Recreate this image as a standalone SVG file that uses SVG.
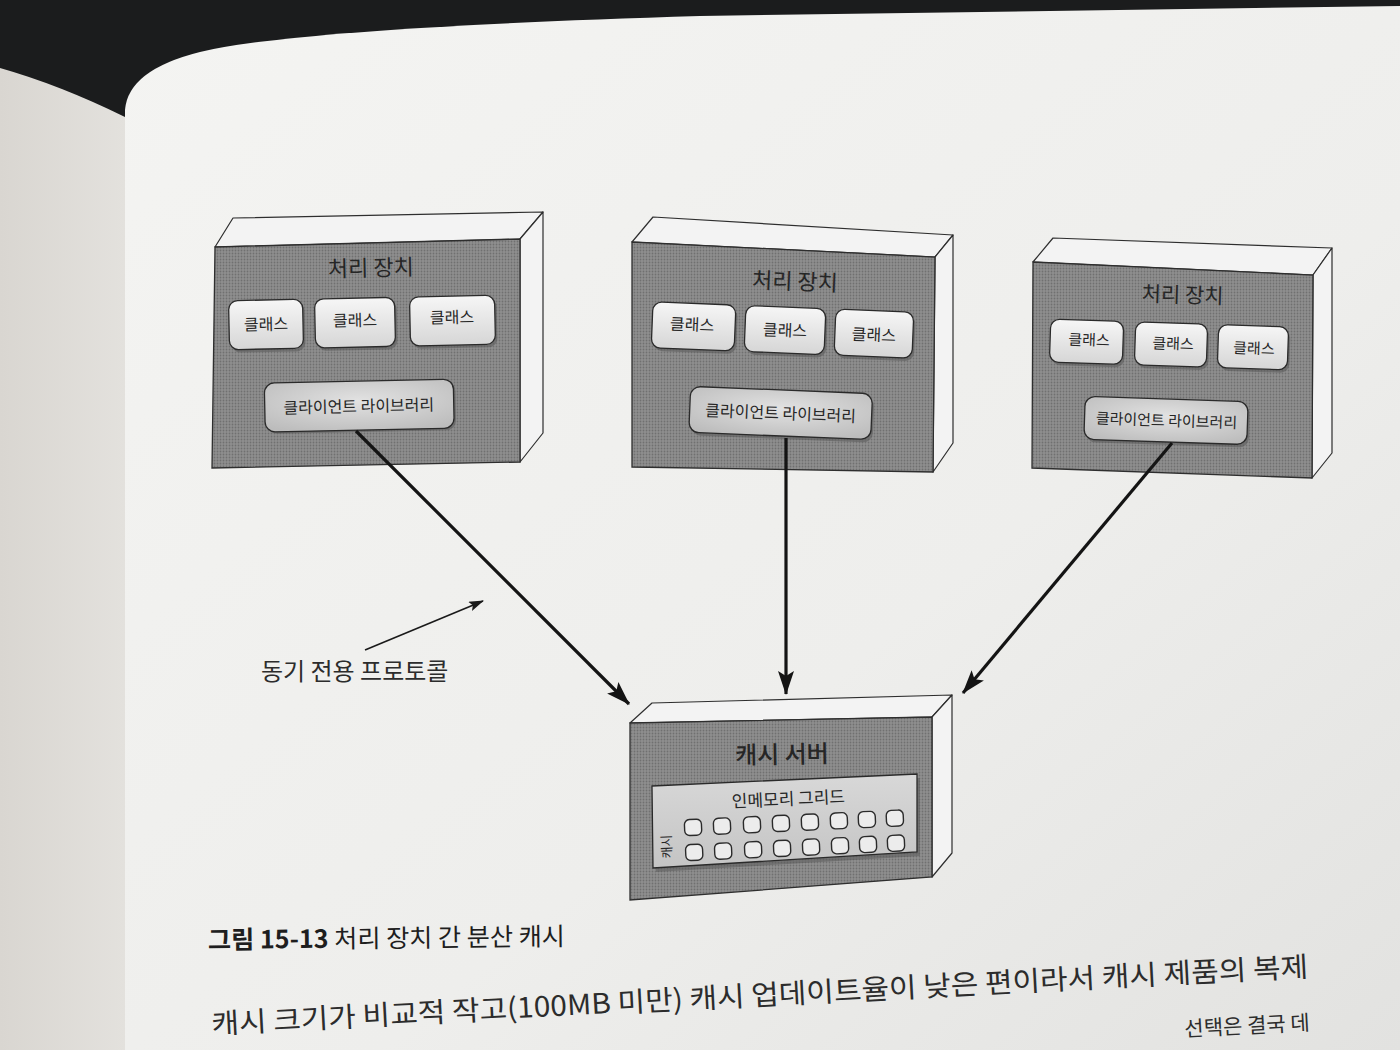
<svg xmlns="http://www.w3.org/2000/svg" width="1400" height="1050" viewBox="0 0 1400 1050">
<defs>
  <linearGradient id="pageGrad" x1="0" y1="0" x2="1" y2="1">
    <stop offset="0" stop-color="#f4f4f2"/>
    <stop offset="0.6" stop-color="#eeeeec"/>
    <stop offset="1" stop-color="#e2e2e0"/>
  </linearGradient>
  <linearGradient id="leftPage" x1="0" y1="0" x2="1" y2="0">
    <stop offset="0" stop-color="#d9d6d1"/>
    <stop offset="1" stop-color="#e3e1dd"/>
  </linearGradient>
  <pattern id="halftone" width="3" height="3" patternUnits="userSpaceOnUse">
    <rect width="3" height="3" fill="#8f8f8f"/>
    <circle cx="1.5" cy="1.5" r="0.9" fill="#707070"/>
  </pattern>
  <linearGradient id="classGrad" x1="0" y1="0" x2="0" y2="1">
    <stop offset="0" stop-color="#f6f6f6"/>
    <stop offset="1" stop-color="#d6d6d6"/>
  </linearGradient>
  <radialGradient id="libGrad" cx="0.5" cy="0.4" r="0.7">
    <stop offset="0" stop-color="#e2e2e2"/>
    <stop offset="1" stop-color="#bcbcbc"/>
  </radialGradient>
  <linearGradient id="gridGrad" x1="0" y1="0" x2="0" y2="1">
    <stop offset="0" stop-color="#d8d8d8"/>
    <stop offset="1" stop-color="#c4c4c4"/>
  </linearGradient>
  <marker id="head" viewBox="0 0 24 16" refX="23" refY="8" markerWidth="24" markerHeight="16" markerUnits="userSpaceOnUse" orient="auto">
    <path d="M0,0 L24,8 L0,16 L5,8 Z" fill="#141414"/>
  </marker>
  <marker id="headSmall" viewBox="0 0 15 10" refX="14" refY="5" markerWidth="15" markerHeight="10" markerUnits="userSpaceOnUse" orient="auto">
    <path d="M0,0 L15,5 L0,10 L3,5 Z" fill="#1a1a1a"/>
  </marker>
</defs>
<style>
  .face { fill: url(#halftone); stroke: #2e2e2e; stroke-width: 1.3; }
  .side { fill: #f3f3f3; stroke: #2e2e2e; stroke-width: 1.2; stroke-linejoin: round; }
  .cls { fill: url(#classGrad); stroke: #2a2a2a; stroke-width: 1.3; }
  .shadow { fill: #5a5a5a; opacity: 0.55; }
  .lib { fill: url(#libGrad); stroke: #2a2a2a; stroke-width: 1.3; }
  .t { font-family: "Noto Sans CJK KR", "Noto Sans", sans-serif; fill: #262626; text-anchor: middle; }
  .title { font-size: 22px; }
  .ct { font-size: 16px; }
  .lt { font-size: 16px; }
  .conn { stroke: #141414; stroke-width: 3.2; fill: none; }
  .cell { fill: #ececec; stroke: #2a2a2a; stroke-width: 1.4; }
  .body { font-family: "Noto Sans CJK KR", "Noto Sans", sans-serif; fill: #2c2c2c; }
</style>

<!-- background / page -->
<rect x="0" y="0" width="1400" height="1050" fill="#1b1c1d"/>
<path d="M0,68 Q60,85 125,117 L125,1050 L0,1050 Z" fill="url(#leftPage)"/>
<path d="M125,1050 L125,110 Q128,70 200,52 Q300,28 700,16 L1400,6 L1400,1050 Z" fill="url(#pageGrad)"/>

<!-- processing unit 1 -->
<g id="unit1">
  <polygon class="side" points="215,247 233,218 543,212 520,239"/>
  <polygon class="side" points="520,239 543,212 543,433 520,462"/>
  <polygon class="face" points="215,247 520,239 520,462 212,468"/>
  <g transform="rotate(-1.2 362 322)">
    <text class="t title" x="372" y="276">처리 장치</text>
    <rect class="shadow" x="231" y="301" width="74" height="49" rx="9"/>
    <rect class="cls" x="229" y="298" width="74" height="49" rx="9"/>
    <text class="t ct" x="266" y="328">클래스</text>
    <rect class="shadow" x="317" y="301" width="80" height="49" rx="9"/>
    <rect class="cls" x="315" y="298" width="80" height="49" rx="9"/>
    <text class="t ct" x="355" y="326">클래스</text>
    <rect class="shadow" x="412" y="301" width="85" height="49" rx="9"/>
    <rect class="cls" x="410" y="298" width="85" height="49" rx="9"/>
    <text class="t ct" x="452" y="325">클래스</text>
    <rect class="shadow" x="265" y="383" width="189" height="49" rx="10"/>
    <rect class="lib" x="263" y="381" width="189" height="49" rx="10"/>
    <text class="t lt" x="357" y="412">클라이언트 라이브러리</text>
  </g>
</g>

<!-- processing unit 2 -->
<g id="unit2">
  <polygon class="side" points="632,242 653,217 953,235 935,257"/>
  <polygon class="side" points="935,257 953,235 953,443 933,472"/>
  <polygon class="face" points="632,242 935,257 933,472 632,467"/>
  <g transform="rotate(2.3 783 330)">
    <text class="t title" x="793" y="289">처리 장치</text>
    <rect class="shadow" x="654" y="310" width="83" height="46" rx="9"/>
    <rect class="cls" x="652" y="307" width="83" height="46" rx="9"/>
    <text class="t ct" x="692" y="334">클래스</text>
    <rect class="shadow" x="747" y="310" width="80" height="46" rx="9"/>
    <rect class="cls" x="745" y="307" width="80" height="46" rx="9"/>
    <text class="t ct" x="785" y="336">클래스</text>
    <rect class="shadow" x="837" y="310" width="78" height="46" rx="9"/>
    <rect class="cls" x="835" y="307" width="78" height="46" rx="9"/>
    <text class="t ct" x="874" y="337">클래스</text>
    <rect class="shadow" x="695" y="393" width="182" height="46" rx="10"/>
    <rect class="lib" x="693" y="390" width="182" height="46" rx="10"/>
    <text class="t lt" x="784" y="419">클라이언트 라이브러리</text>
  </g>
</g>

<!-- processing unit 3 -->
<g id="unit3">
  <polygon class="side" points="1033,262 1053,238 1332,248 1313,275"/>
  <polygon class="side" points="1313,275 1332,248 1332,453 1312,478"/>
  <polygon class="face" points="1033,262 1313,275 1312,478 1032,468"/>
  <g transform="rotate(1.9 1170 345)">
    <text class="t" style="font-size:21px" x="1181" y="302">처리 장치</text>
    <rect class="shadow" x="1052" y="326" width="73" height="43" rx="9"/>
    <rect class="cls" x="1050" y="323" width="73" height="43" rx="9"/>
    <text class="t" style="font-size:15px" x="1089" y="348">클래스</text>
    <rect class="shadow" x="1137" y="326" width="72" height="43" rx="9"/>
    <rect class="cls" x="1135" y="323" width="72" height="43" rx="9"/>
    <text class="t" style="font-size:15px" x="1173" y="349">클래스</text>
    <rect class="shadow" x="1220" y="326" width="70" height="43" rx="9"/>
    <rect class="cls" x="1218" y="323" width="70" height="43" rx="9"/>
    <text class="t" style="font-size:15px" x="1254" y="351">클래스</text>
    <rect class="shadow" x="1089" y="402" width="163" height="43" rx="10"/>
    <rect class="lib" x="1087" y="399" width="163" height="43" rx="10"/>
    <text class="t" style="font-size:15px" x="1169" y="426">클라이언트 라이브러리</text>
  </g>
</g>

<!-- cache server -->
<g id="cacheServer">
  <polygon class="side" points="630,723 652,703 952,695 932,717"/>
  <polygon class="side" points="932,717 952,695 952,853 932,877"/>
  <polygon class="face" points="630,723 932,717 932,877 630,900"/>
  <text class="t" style="font-size:24px;font-weight:500" x="782" y="763" transform="rotate(-1 782 763)">캐시 서버</text>
  <polygon points="655,790 920,778 920,856 656,872" fill="#555" opacity="0.5"/>
  <polygon points="652,786 917,774 917,852 653,868" fill="url(#gridGrad)" stroke="#2a2a2a" stroke-width="1.3"/>
  <g transform="rotate(-2.6 790 835)">
    <text class="t" style="font-size:17px" x="790" y="805">인메모리 그리드</text>
    <text class="t" style="font-size:13px" x="0" y="0" transform="translate(671 841) rotate(-90)">캐시</text>
    <rect class="cell" x="685" y="815" width="17" height="16" rx="5"/>
    <rect class="cell" x="714" y="815" width="17" height="16" rx="5"/>
    <rect class="cell" x="744" y="815" width="17" height="16" rx="5"/>
    <rect class="cell" x="773" y="815" width="17" height="16" rx="5"/>
    <rect class="cell" x="802" y="815" width="17" height="16" rx="5"/>
    <rect class="cell" x="831" y="815" width="17" height="16" rx="5"/>
    <rect class="cell" x="859" y="815" width="17" height="16" rx="5"/>
    <rect class="cell" x="887" y="815" width="17" height="16" rx="5"/>
    <rect class="cell" x="685" y="840" width="17" height="16" rx="5"/>
    <rect class="cell" x="714" y="840" width="17" height="16" rx="5"/>
    <rect class="cell" x="744" y="840" width="17" height="16" rx="5"/>
    <rect class="cell" x="773" y="840" width="17" height="16" rx="5"/>
    <rect class="cell" x="802" y="840" width="17" height="16" rx="5"/>
    <rect class="cell" x="831" y="840" width="17" height="16" rx="5"/>
    <rect class="cell" x="859" y="840" width="17" height="16" rx="5"/>
    <rect class="cell" x="887" y="840" width="17" height="16" rx="5"/>
  </g>
</g>

<!-- connectors -->
<g id="connectors">
  <line class="conn" x1="356" y1="431" x2="629" y2="704" marker-end="url(#head)"/>
  <line class="conn" x1="786" y1="438" x2="786" y2="694" marker-end="url(#head)"/>
  <line class="conn" x1="1172" y1="443" x2="963" y2="693" marker-end="url(#head)"/>
  <line x1="365" y1="650" x2="483" y2="601" stroke="#1a1a1a" stroke-width="1.6" marker-end="url(#headSmall)"/>
</g>

<!-- label -->
<g id="label">
  <text class="body" style="font-size:24px" x="261" y="680">동기 전용 프로토콜</text>
</g>

<!-- caption -->
<g id="caption">
  <text class="body" style="font-size:25px;fill:#1e1e1e" x="208" y="949" textLength="357" lengthAdjust="spacingAndGlyphs" transform="rotate(-0.6 208 949)"><tspan font-weight="700">그림 15-13</tspan> 처리 장치 간 분산 캐시</text>
</g>

<!-- body text -->
<g id="bodyText">
  <text class="body" style="font-size:28px" x="212" y="1034" textLength="1098" lengthAdjust="spacingAndGlyphs" transform="rotate(-3 212 1034)">캐시 크기가 비교적 작고(100MB 미만) 캐시 업데이트율이 낮은 편이라서 캐시 제품의 복제</text>
  <text class="body" style="font-size:21px;text-anchor:end" x="1310" y="1030" transform="rotate(-3 1310 1030)">선택은 결국 데</text>
</g>
</svg>
